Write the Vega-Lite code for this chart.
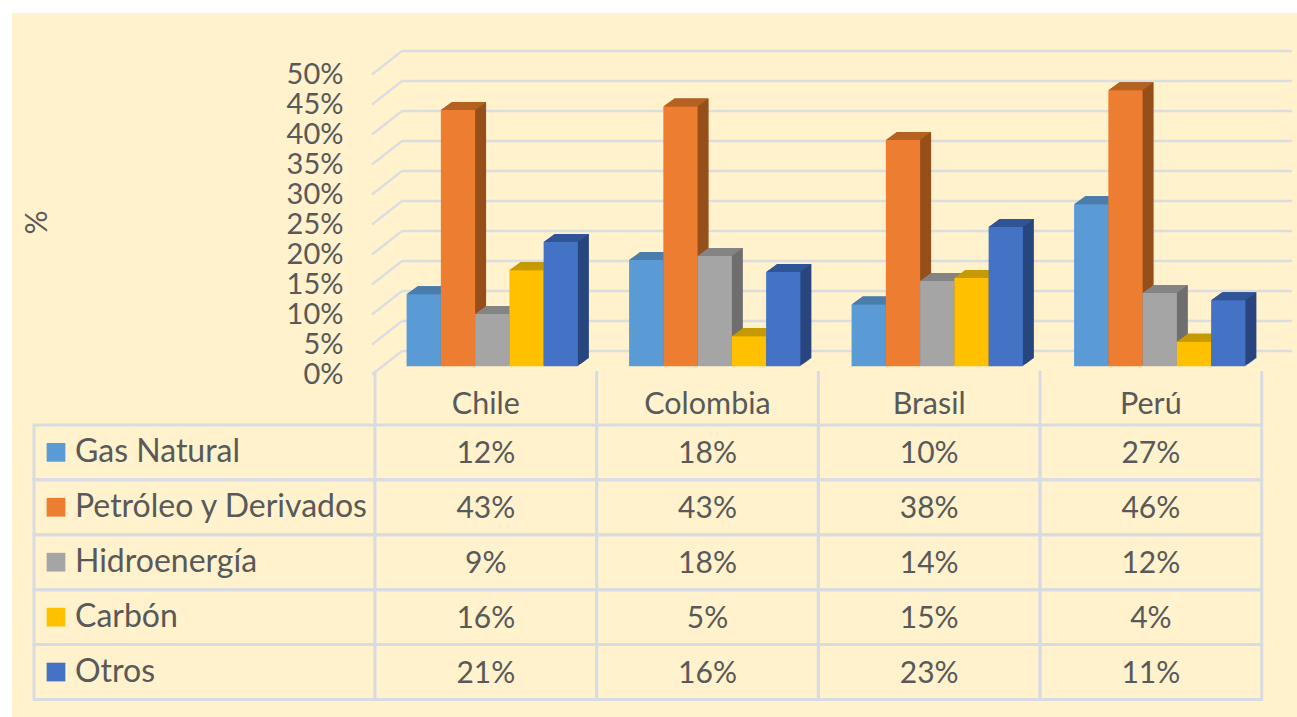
{
"$schema":"https://vega.github.io/schema/vega-lite/v6.json",
"background":"#FFFFFF",
"padding":{"left":12,"top":13,"right":0,"bottom":0},
"config":{"view":{"fill":"#FFF2CC","stroke":null},"concat":{"spacing":0},"font":"Lato","axis":{"labelOverlap":false}},
"datasets":{
"filas":[
{"pais":"Chile","serie":"Gas Natural","valor":0.12},{"pais":"Chile","serie":"Petróleo y Derivados","valor":0.427},{"pais":"Chile","serie":"Hidroenergía","valor":0.087},{"pais":"Chile","serie":"Carbón","valor":0.16},{"pais":"Chile","serie":"Otros","valor":0.207},
{"pais":"Colombia","serie":"Gas Natural","valor":0.177},{"pais":"Colombia","serie":"Petróleo y Derivados","valor":0.433},{"pais":"Colombia","serie":"Hidroenergía","valor":0.184},{"pais":"Colombia","serie":"Carbón","valor":0.05},{"pais":"Colombia","serie":"Otros","valor":0.157},
{"pais":"Brasil","serie":"Gas Natural","valor":0.103},{"pais":"Brasil","serie":"Petróleo y Derivados","valor":0.377},{"pais":"Brasil","serie":"Hidroenergía","valor":0.142},{"pais":"Brasil","serie":"Carbón","valor":0.147},{"pais":"Brasil","serie":"Otros","valor":0.232},
{"pais":"Perú","serie":"Gas Natural","valor":0.27},{"pais":"Perú","serie":"Petróleo y Derivados","valor":0.46},{"pais":"Perú","serie":"Hidroenergía","valor":0.122},{"pais":"Perú","serie":"Carbón","valor":0.041},{"pais":"Perú","serie":"Otros","valor":0.11}
],
"marcas":[{"v":0},{"v":0.05},{"v":0.1},{"v":0.15},{"v":0.2},{"v":0.25},{"v":0.3},{"v":0.35},{"v":0.4},{"v":0.45},{"v":0.5}],
"paises":[{"pais":"Chile"},{"pais":"Colombia"},{"pais":"Brasil"},{"pais":"Perú"}],
"series":[{"serie":"Gas Natural"},{"serie":"Petróleo y Derivados"},{"serie":"Hidroenergía"},{"serie":"Carbón"},{"serie":"Otros"}]
},
"bounds":"flush",
"spacing":0,
"vconcat":[
{"width":1285,"height":372,
"layer":[
{"data":{"name":"marcas"},
"mark":{"type":"rule","color":"#DCDDDF","strokeWidth":2.5,"yOffset":-15.3,"clip":false},
"encoding":{"x":{"value":390},"x2":{"value":1280},
"y":{"field":"v","type":"quantitative","scale":{"domain":[0,0.5],"range":[353.3,53.3]},
"axis":{"values":[0,0.05,0.1,0.15,0.2,0.25,0.3,0.35,0.4,0.45,0.5],"format":".0%","offset":-363,"domain":false,"ticks":false,"grid":false,"labelPadding":32,"labelFontSize":29,"labelColor":"#595959","labelOffset":8,"labelOverlap":false,"labelBound":false,"labelFlush":false,"labelSeparation":0,"title":"%","titleFontSize":30,"titleFontWeight":"normal","titleColor":"#595959","titleX":-323,"titleY":209}}}},
{"data":{"name":"marcas"},
"mark":{"type":"rule","color":"#DCDDDF","strokeWidth":2.5,"yOffset":8.2,"y2Offset":-15.3},
"encoding":{"x":{"value":360},"x2":{"value":390},
"y":{"field":"v","type":"quantitative","axis":{"values":[0,0.05,0.1,0.15,0.2,0.25,0.3,0.35,0.4,0.45,0.5],"format":".0%","offset":-363,"domain":false,"ticks":false,"grid":false,"labelPadding":32,"labelFontSize":29,"labelColor":"#595959","labelOffset":8,"labelOverlap":false,"labelBound":false,"labelFlush":false,"labelSeparation":0,"title":"%","titleFontSize":30,"titleFontWeight":"normal","titleColor":"#595959","titleX":-323,"titleY":209}},"y2":{"field":"v"}}},
{"data":{"name":"filas"},
"encoding":{
"x":{"field":"pais","type":"nominal","sort":null,"axis":null,"scale":{"domain":["Chile","Colombia","Brasil","Perú"],"range":[369,1259],"paddingInner":0.23,"paddingOuter":0.115}},
"y":{"field":"valor","type":"quantitative","axis":{"values":[0,0.05,0.1,0.15,0.2,0.25,0.3,0.35,0.4,0.45,0.5],"format":".0%","offset":-363,"domain":false,"ticks":false,"grid":false,"labelPadding":32,"labelFontSize":29,"labelColor":"#595959","labelOffset":8,"labelOverlap":false,"labelBound":false,"labelFlush":false,"labelSeparation":0,"title":"%","titleFontSize":30,"titleFontWeight":"normal","titleColor":"#595959","titleX":-323,"titleY":209}}},
"layer":[
{"encoding":{"color":{"field":"serie","type":"nominal","legend":null,"scale":{"domain":["Gas Natural","Petróleo y Derivados","Hidroenergía","Carbón","Otros"],"range":["#3F6F9C","#97501A","#6E6E6E","#A68000","#29467F"]}}},
"layer":[
{"mark":{"type":"bar","yOffset":-8,"y2Offset":-8},"encoding":{"xOffset":{"field":"serie","type":"nominal","scale":{"domain":["Gas Natural","Petróleo y Derivados","Hidroenergía","Carbón","Otros"],"range":[11,182.3],"paddingInner":0,"paddingOuter":0}}}},
{"mark":{"type":"bar","yOffset":-7.3,"y2Offset":-7.3},"encoding":{"xOffset":{"field":"serie","type":"nominal","scale":{"domain":["Gas Natural","Petróleo y Derivados","Hidroenergía","Carbón","Otros"],"range":[10,181.3],"paddingInner":0,"paddingOuter":0}}}},
{"mark":{"type":"bar","yOffset":-6.5,"y2Offset":-6.5},"encoding":{"xOffset":{"field":"serie","type":"nominal","scale":{"domain":["Gas Natural","Petróleo y Derivados","Hidroenergía","Carbón","Otros"],"range":[9,180.3],"paddingInner":0,"paddingOuter":0}}}},
{"mark":{"type":"bar","yOffset":-5.8,"y2Offset":-5.8},"encoding":{"xOffset":{"field":"serie","type":"nominal","scale":{"domain":["Gas Natural","Petróleo y Derivados","Hidroenergía","Carbón","Otros"],"range":[8,179.3],"paddingInner":0,"paddingOuter":0}}}},
{"mark":{"type":"bar","yOffset":-5.1,"y2Offset":-5.1},"encoding":{"xOffset":{"field":"serie","type":"nominal","scale":{"domain":["Gas Natural","Petróleo y Derivados","Hidroenergía","Carbón","Otros"],"range":[7,178.3],"paddingInner":0,"paddingOuter":0}}}},
{"mark":{"type":"bar","yOffset":-4.4,"y2Offset":-4.4},"encoding":{"xOffset":{"field":"serie","type":"nominal","scale":{"domain":["Gas Natural","Petróleo y Derivados","Hidroenergía","Carbón","Otros"],"range":[6,177.3],"paddingInner":0,"paddingOuter":0}}}},
{"mark":{"type":"bar","yOffset":-3.6,"y2Offset":-3.6},"encoding":{"xOffset":{"field":"serie","type":"nominal","scale":{"domain":["Gas Natural","Petróleo y Derivados","Hidroenergía","Carbón","Otros"],"range":[5,176.3],"paddingInner":0,"paddingOuter":0}}}},
{"mark":{"type":"bar","yOffset":-2.9,"y2Offset":-2.9},"encoding":{"xOffset":{"field":"serie","type":"nominal","scale":{"domain":["Gas Natural","Petróleo y Derivados","Hidroenergía","Carbón","Otros"],"range":[4,175.3],"paddingInner":0,"paddingOuter":0}}}},
{"mark":{"type":"bar","yOffset":-2.2,"y2Offset":-2.2},"encoding":{"xOffset":{"field":"serie","type":"nominal","scale":{"domain":["Gas Natural","Petróleo y Derivados","Hidroenergía","Carbón","Otros"],"range":[3,174.3],"paddingInner":0,"paddingOuter":0}}}},
{"mark":{"type":"bar","yOffset":-1.5,"y2Offset":-1.5},"encoding":{"xOffset":{"field":"serie","type":"nominal","scale":{"domain":["Gas Natural","Petróleo y Derivados","Hidroenergía","Carbón","Otros"],"range":[2,173.3],"paddingInner":0,"paddingOuter":0}}}},
{"mark":{"type":"bar","yOffset":-0.7,"y2Offset":-0.7},"encoding":{"xOffset":{"field":"serie","type":"nominal","scale":{"domain":["Gas Natural","Petróleo y Derivados","Hidroenergía","Carbón","Otros"],"range":[1,172.3],"paddingInner":0,"paddingOuter":0}}}}
],
"resolve":{"scale":{"xOffset":"independent"}}},
{"mark":{"type":"point","filled":true,"opacity":1,"size":1174,"shape":"M-1 0L1 0L1.642 -0.467L-0.358 -0.467Z"},
"encoding":{"xOffset":{"field":"serie","type":"nominal","scale":{"type":"band","domain":["Gas Natural","Petróleo y Derivados","Hidroenergía","Carbón","Otros"],"range":[0,171.3],"paddingInner":0,"paddingOuter":0}},
"color":{"field":"serie","type":"nominal","legend":null,"scale":{"domain":["Gas Natural","Petróleo y Derivados","Hidroenergía","Carbón","Otros"],"range":["#4A7DAB","#B5611F","#848484","#C69A00","#2F5597"]}}}},
{"mark":{"type":"bar"},
"encoding":{"xOffset":{"field":"serie","type":"nominal","scale":{"domain":["Gas Natural","Petróleo y Derivados","Hidroenergía","Carbón","Otros"],"range":[0,171.3],"paddingInner":0,"paddingOuter":0}},
"color":{"field":"serie","type":"nominal","legend":null,"scale":{"domain":["Gas Natural","Petróleo y Derivados","Hidroenergía","Carbón","Otros"],"range":["#5B9BD5","#ED7D31","#A5A5A5","#FFC000","#4472C4"]}}}}
],
"resolve":{"scale":{"color":"independent","xOffset":"independent"}}}
]},
{"bounds":"flush","spacing":0,"hconcat":[
{"width":363,"height":332,
"encoding":{"y":{"field":"serie","type":"nominal","axis":null,"scale":{"domain":[" ","Gas Natural","Petróleo y Derivados","Hidroenergía","Carbón","Otros"],"range":[-15,314.5],"padding":0}}},
"data":{"name":"series"},
"layer":[
{"mark":{"type":"rect","fillOpacity":0,"stroke":"#D9DBE2","strokeWidth":3},
"encoding":{"x":{"datum":"Serie","type":"nominal","axis":null,"scale":{"range":[22,363],"padding":0}}}},
{"mark":{"type":"point","shape":"square","filled":true,"opacity":1,"size":350,"xOffset":22},
"encoding":{"x":{"datum":"Serie","type":"nominal","bandPosition":0,"axis":null},
"color":{"field":"serie","type":"nominal","legend":null,"scale":{"domain":["Gas Natural","Petróleo y Derivados","Hidroenergía","Carbón","Otros"],"range":["#5B9BD5","#ED7D31","#A5A5A5","#FFC000","#4472C4"]}}}},
{"mark":{"type":"text","align":"left","dx":41,"dy":0,"fontSize":32,"color":"#595959"},
"encoding":{"x":{"datum":"Serie","type":"nominal","bandPosition":0,"axis":null},"text":{"field":"serie"}}}
]},
{"width":922,"height":332,
"layer":[
{"data":{"name":"filas"},
"mark":{"type":"rect","fillOpacity":0,"stroke":"#D9DBE2","strokeWidth":3},
"encoding":{"x":{"field":"pais","type":"nominal","axis":null,"scale":{"domain":["Chile","Colombia","Brasil","Perú"],"range":[0,886.7],"padding":0}},
"y":{"field":"serie","type":"nominal","axis":null,"scale":{"domain":[" ","Gas Natural","Petróleo y Derivados","Hidroenergía","Carbón","Otros"],"range":[-15,314.5],"padding":0}}}},
{"data":{"name":"paises"},
"mark":{"type":"tick","orient":"vertical","size":53,"thickness":3,"color":"#D9DBE2","opacity":1},
"encoding":{"x":{"field":"pais","type":"nominal","bandPosition":0,"axis":null},"y":{"datum":" ","type":"nominal","axis":null}}},
{"data":{"name":"paises"},"transform":[{"filter":"datum.pais === 'Perú'"}],
"mark":{"type":"tick","orient":"vertical","size":53,"thickness":3,"color":"#D9DBE2","opacity":1},
"encoding":{"x":{"field":"pais","type":"nominal","bandPosition":1,"axis":null},"y":{"datum":" ","type":"nominal","axis":null}}},
{"data":{"name":"paises"},
"mark":{"type":"text","fontSize":30.5,"color":"#595959","dy":8},
"encoding":{"x":{"field":"pais","type":"nominal","axis":null},"y":{"datum":" ","type":"nominal","axis":null},"text":{"field":"pais"}}},
{"data":{"name":"filas"},
"mark":{"type":"text","fontSize":30,"color":"#595959","dy":2},
"encoding":{"x":{"field":"pais","type":"nominal","axis":null},"y":{"field":"serie","type":"nominal","axis":null},"text":{"field":"valor","type":"quantitative","format":".0%"}}}
]}
]}
]}
